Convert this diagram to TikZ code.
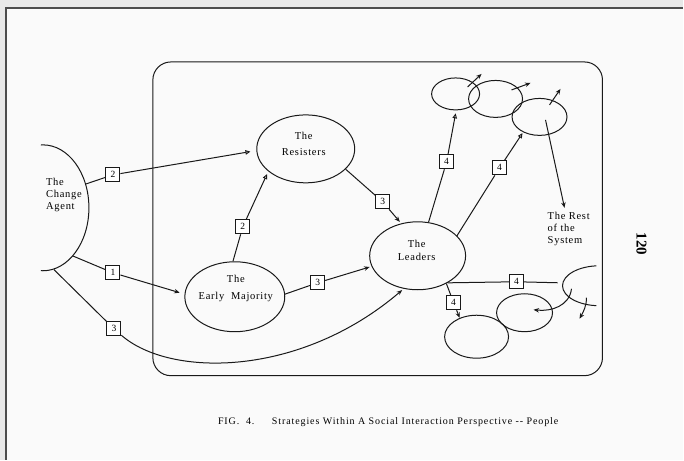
\documentclass[tikz,border=0pt]{standalone}
\usepackage{fontspec}
\setmainfont{Liberation Serif}
\newfontfamily\typew[LetterSpace=7]{Liberation Serif}
\newfontfamily\captw[LetterSpace=9]{Liberation Serif}
\usetikzlibrary{shapes.geometric,arrows.meta}

\begin{document}
\begin{tikzpicture}[x=1pt,y=-1pt,
  ink/.style={draw=black!90, line width=1pt},
  blob/.style={ellipse, ink, inner sep=0pt},
  numbox/.style={ink, fill=white, minimum size=14pt, inner sep=0pt,
    font=\typew\fontsize{9.5}{9.5}\selectfont},
  lbl/.style={inner sep=0pt, align=center},
  lblfont/.style={font=\typew\fontsize{10.5}{#1}\selectfont},
  tipo/.style={-{Triangle[open,length=5pt,width=4.5pt]}},
  tipf/.style={-{Stealth[length=5.5pt,width=4.5pt]}},
]
% page, with the darker scanned edge at top and left
\fill[gray!18] (0,0) rectangle (684,460);
\fill[gray!4] (6,8) rectangle (684,460);
\draw[black!70, line width=1.2pt] (6,460) -- (6,8) -- (684,8);
\useasboundingbox (0,0) rectangle (684,460);

% the social system
\draw[ink, rounded corners=18pt] (153,62) rectangle (603,376);

% the change agent, only its right half shows
\begin{scope}
  \clip (41,120) rectangle (150,300);
  \node[blob, minimum width=92pt, minimum height=126pt] (ca) at (43,208) {};
\end{scope}
\node[lbl, align=left, lblfont=12] (catxt) at (64,195) {The\\Change\\Agent};

% groups inside the system
\node[blob, minimum width=98pt, minimum height=68pt] (res) at (306,149) {};
\node[lbl, lblfont=16] (restxt) at (304,144) {The\\Resisters};

\node[blob, minimum width=100pt, minimum height=70pt] (em) at (235,297) {};
\node[lbl, lblfont=17] (emtxt) at (236,289) {The\\Early~~Majority};

\node[blob, minimum width=96pt, minimum height=68pt] (lead) at (418,256) {};
\node[lbl, lblfont=13] (leadtxt) at (417,251) {The\\Leaders};

% followers of the leaders
\node[blob, minimum width=48pt, minimum height=32pt] (e1) at (456,94) {};
\node[blob, minimum width=54pt, minimum height=37pt] (e2) at (496,99) {};
\node[blob, minimum width=55pt, minimum height=37pt] (e3) at (540,117) {};
\node[blob, minimum width=56pt, minimum height=38pt] (e5) at (525,313) {};
\node[blob, minimum width=64pt, minimum height=43pt] (e6) at (477,337) {};
\begin{scope}
  \clip (540,240) rectangle (597,320);
  \node[blob, minimum width=74pt, minimum height=40pt] (pe) at (600,286) {};
\end{scope}

\node[lbl, align=left, anchor=west, lblfont=12] (rest) at (548,229) {The Rest\\of the\\System};

% numbered strategy boxes
\node[numbox] (b2a) at (113,175) {2};
\node[numbox] (b1)  at (113,273) {1};
\node[numbox] (b3a) at (114,329) {3};
\node[numbox] (b2b) at (243,227) {2};
\node[numbox] (b3b) at (318,283) {3};
\node[numbox] (b3c) at (383,202) {3};
\node[numbox] (b4a) at (447,162) {4};
\node[numbox] (b4b) at (500,168) {4};
\node[numbox] (b4c) at (517,282) {4};
\node[numbox] (b4d) at (454,303) {4};

% strategies from the change agent
\draw[ink] (ca.29) -- (b2a);
\draw[ink, tipo, shorten >=6pt] (b2a) -- (res.182);
\draw[ink] (ca.-58) -- (b1);
\draw[ink, tipf, shorten >=5pt] (b1) -- (em.177);
\draw[ink] (ca.-80) -- (b3a);
\draw[ink, tipf, shorten >=2pt] (b3a) .. controls (170,378) and (300,378) .. (lead.247);

% between the groups
\draw[ink] (em.93) -- (b2b);
\draw[ink, tipo, shorten >=3pt] (b2b) -- (res.211);
\draw[ink] (em.3) -- (b3b);
\draw[ink, tipf, shorten >=2pt] (b3b) -- (lead.193);
\draw[ink] (res.-27) -- (b3c);
\draw[ink, tipf, shorten >=2pt] (b3c) -- (lead.117);

% from the leaders outwards
\draw[ink] (lead.72) -- (b4a);
\draw[ink, tipo, shorten >=3pt] (b4a) -- (e1.-88);
\draw[ink] (lead.27) -- (b4b);
\draw[ink, tipo, shorten >=1pt] (b4b) -- (e3.223);
\coordinate (hend) at (558,283);
\draw[ink] (lead.-42) -- (b4c) -- (hend);
\draw[ink] (lead.-44) -- (b4d);
\draw[ink, tipf] (b4d) -- (e6.132);

% spread to the rest of the system
\coordinate (a1s) at (468,87);  \coordinate (a1e) at (482,74);
\coordinate (a2s) at (512,90);  \coordinate (a2e) at (531,83);
\coordinate (a3s) at (550,105); \coordinate (a3e) at (561,89);
\coordinate (rs)  at (546,120); \coordinate (re)  at (565,208);
\draw[ink, tipf] (a1s) -- (a1e);
\draw[ink, tipf] (a2s) -- (a2e);
\draw[ink, tipf] (a3s) -- (a3e);
\draw[ink, tipf] (rs) -- (re);

\coordinate (c1s) at (572,289); \coordinate (c1e) at (534,310);
\coordinate (c2s) at (587,298); \coordinate (c2e) at (580,319);
\draw[ink, tipf] (c1s) .. controls (570,306) and (552,312) .. (c1e);
\draw[ink, tipf] (c2s) .. controls (587,306) and (584,312) .. (c2e);

% caption and page number
\node[anchor=west, inner sep=0pt, font=\captw\fontsize{10}{10}\selectfont] (fig) at (218,422) {FIG.~~4.};
\node[anchor=west, inner sep=0pt, font=\captw\fontsize{10}{10}\selectfont] (cap) at (272,422) {Strategies Within A Social Interaction Perspective -{}- People};
\node[inner sep=0pt, rotate=-90, font=\fontsize{15}{15}\selectfont\bfseries] (pg) at (642,244) {120};
\end{tikzpicture}
\end{document}
